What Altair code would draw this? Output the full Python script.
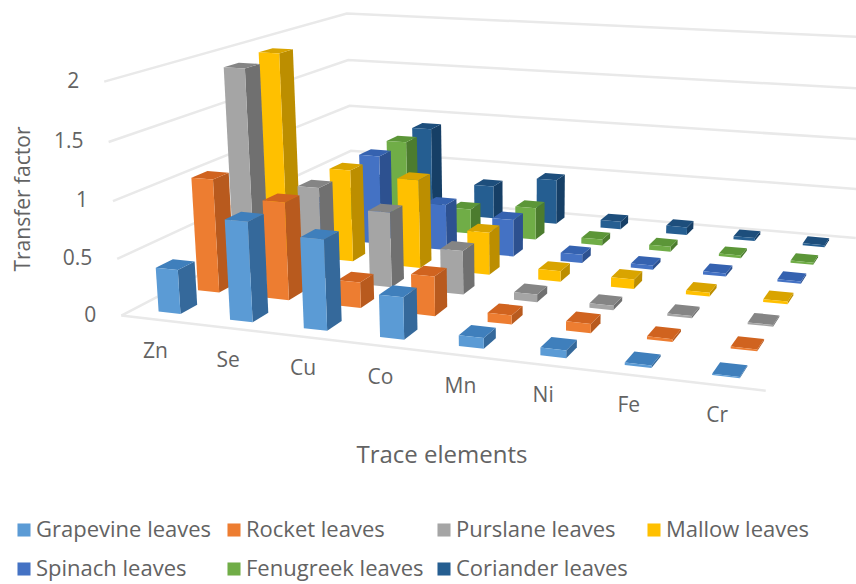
import numpy as np
import altair as alt

# Transfer factor per trace element, one list per plant
elements = ["Zn", "Se", "Cu", "Co", "Mn", "Ni", "Fe", "Cr"]
plants = ["Grapevine leaves", "Rocket leaves", "Purslane leaves", "Mallow leaves",
          "Spinach leaves", "Fenugreek leaves", "Coriander leaves"]
grapevine = [0.39, 0.87, 0.78, 0.36, 0.09, 0.065, 0.02, 0.01]
rocket = [1.03, 0.88, 0.23, 0.35, 0.08, 0.08, 0.025, 0.015]
purslane = [1.90, 0.86, 0.69, 0.40, 0.07, 0.04, 0.02, 0.015]
mallow = [1.94, 0.88, 0.84, 0.40, 0.10, 0.09, 0.035, 0.025]
spinach = [0.35, 0.88, 0.45, 0.36, 0.08, 0.04, 0.03, 0.02]
fenugreek = [0.30, 0.89, 0.25, 0.32, 0.06, 0.05, 0.025, 0.02]
coriander = [0.30, 0.90, 0.34, 0.46, 0.08, 0.08, 0.03, 0.02]
series = [grapevine, rocket, purslane, mallow, spinach, fenugreek, coriander]

front_colors = ["#5B9BD5", "#ED7D31", "#A5A5A5", "#FFC000", "#4472C4", "#70AD47", "#255E91"]
side_colors = ["#35699B", "#B85A1E", "#707070", "#BC8E00", "#2D5190", "#4C7C2E", "#163F66"]
top_colors = ["#3F7FBC", "#D0631F", "#858585", "#D9A400", "#3562B0", "#5C9638", "#1D4E7C"]

gridlines = [0, 0.5, 1, 1.5, 2]
bar_w, bar_d = 0.31, 0.42
x_min, x_max = -0.345, 7.655
d_min, d_max = -0.31, 6.68

# Camera calibration: world (element, plant row, value) to page position
camera_points = [
    (0, 0, 0, 158, 313), (1, 0, 0, 229, 320), (2, 0, 0, 303, 328), (3, 0, 0, 379, 337),
    (4, 0, 0, 458, 346), (5, 0, 0, 540, 355), (6, 0, 0, 624, 365), (7, 0, 0, 712, 373),
    (7, 6, 0, 803, 246), (6, 6, 0, 733, 240), (5, 6, 0, 666, 233), (4, 6, 0, 600, 227),
    (3, 6, 0, 537, 222), (2, 6, 0, 475, 217), (7, 1, 0, 732, 348), (7, 2, 0, 748, 324),
    (7, 3, 0, 764, 302), (7, 4, 0, 777, 282), (7, 5, 0, 791, 263), (0, 1, 0, 198, 290),
    (3, 1, 0, 415, 313), (5, 1, 0, 565, 330), (3, 2, 0, 442, 292), (5, 2, 0, 589, 306),
    (3, 3, 0, 468, 273), (5, 3, 0, 611, 287), (5, 4, 0, 631, 268), (5, 5, 0, 648, 250),
    (x_min, d_min, 0, 122, 316), (x_min, d_min, 0.5, 118, 260), (x_min, d_min, 1, 113, 202),
    (x_min, d_min, 1.5, 108, 142), (x_min, d_min, 2, 105, 80),
    (x_min, d_max, 0, 352, 193), (x_min, d_max, 0.5, 351, 150), (x_min, d_max, 1, 350, 107),
    (x_min, d_max, 1.5, 347, 61), (x_min, d_max, 2, 347, 13), (x_max, d_min, 0, 765, 392),
]


def solve_camera(points):
    rows = []
    for x, d, z, u, v in points:
        u, v = u / 500, v / 500
        rows.append([x, d, z, 1, 0, 0, 0, 0, -u * x, -u * d, -u * z, -u])
        rows.append([0, 0, 0, 0, x, d, z, 1, -v * x, -v * d, -v * z, -v])
    return np.linalg.svd(np.array(rows, dtype=float))[2][-1].reshape(3, 4)


P = solve_camera(camera_points)


def project(x, d, z):
    u, v, w = P @ np.array([x, d, z, 1.0])
    return [float(500 * u / w), float(500 * v / w)]


def polygon(corners, key):
    ring = [project(*c) for c in corners]
    return {"type": "Feature", "properties": {"key": key},
            "geometry": {"type": "Polygon", "coordinates": [ring + [ring[0]]]}}


def polyline(corners):
    return {"type": "Feature", "properties": {"kind": "grid"},
            "geometry": {"type": "LineString", "coordinates": [project(*c) for c in corners]}}


# Painter's order: far rows first, left to right inside a row
faces = []
for s in range(len(plants) - 1, -1, -1):
    for i in range(len(elements)):
        v = series[s][i]
        x0, x1, d0, d1 = i, i + bar_w, s, s + bar_d
        name = plants[s]
        faces.append(polygon([(x1, d0, 0), (x1, d1, 0), (x1, d1, v), (x1, d0, v)], name + " side"))
        faces.append(polygon([(x0, d0, v), (x1, d0, v), (x1, d1, v), (x0, d1, v)], name + " top"))
        faces.append(polygon([(x0, d0, 0), (x1, d0, 0), (x1, d0, v), (x0, d0, v)], name))

grid = [polyline([(x_min, d_min, z), (x_min, d_max, z), (x_max, d_max, z)]) for z in gridlines]
grid.append(polyline([(x_min, d_min, 0), (x_max, d_min, 0)]))

domain, palette = [], []
for name, f, sd, t in zip(plants, front_colors, side_colors, top_colors):
    domain += [name, name + " side", name + " top"]
    palette += [f, sd, t]

identity = dict(type="identity", scale=1, translate=[0, 0])

grid_layer = alt.Chart(alt.Data(values=grid)).mark_geoshape(
    filled=False, stroke="#E9E9E9", strokeWidth=2.5
).project(**identity)

bar_layer = alt.Chart(alt.Data(values=faces)).mark_geoshape(strokeWidth=0).encode(
    color=alt.Color(
        "properties.key:N",
        scale=alt.Scale(domain=domain, range=palette),
        legend=alt.Legend(
            values=plants, title=None, orient="none", direction="horizontal",
            legendX=13, legendY=519, columns=4, gridAlign="all", columnPadding=9,
            rowPadding=17, symbolType="square", symbolSize=170, symbolStrokeWidth=0,
            symbolOffset=0, labelFont="Open Sans", labelFontSize=22, labelColor="#636363",
            labelOffset=1, labelLimit=300,
        ),
    )
).project(**identity)

TEXT = "#636363"
y_labels = [
    {"t": str(z), "x": project(x_min, d_min, z)[0] - 25, "y": project(x_min, d_min, z)[1]}
    for z in gridlines
]
y_layer = alt.Chart(alt.Data(values=y_labels)).mark_text(
    align="right", baseline="middle", font="Open Sans", fontSize=21, color=TEXT
).encode(x=alt.X("x:Q", scale=None), y=alt.Y("y:Q", scale=None), text="t:N")

x_labels = [
    {"t": e, "x": project(i, 0, 0)[0] + (i - 3.5) * 1.2 + 1, "y": project(i, 0, 0)[1] + 41}
    for i, e in enumerate(elements)
]
x_layer = alt.Chart(alt.Data(values=x_labels)).mark_text(
    align="center", baseline="middle", font="Open Sans", fontSize=21, color=TEXT
).encode(x=alt.X("x:Q", scale=None), y=alt.Y("y:Q", scale=None), text="t:N")

title_x = alt.Chart(alt.Data(values=[{"t": "Trace elements"}])).mark_text(
    align="center", baseline="middle", font="Open Sans", fontSize=24, color=TEXT
).encode(x=alt.value(442), y=alt.value(456), text="t:N")
title_y = alt.Chart(alt.Data(values=[{"t": "Transfer factor"}])).mark_text(
    align="center", baseline="middle", font="Open Sans", fontSize=21, color=TEXT, angle=270
).encode(x=alt.value(24), y=alt.value(199), text="t:N")

chart = alt.layer(grid_layer, bar_layer, y_layer, x_layer, title_x, title_y).properties(
    width=856, height=584, padding=0, autosize=alt.AutoSizeParams(type="none"), background="white"
).configure_view(stroke=None)

chart.save("out.html", embed_options={"renderer": "svg", "actions": False})
